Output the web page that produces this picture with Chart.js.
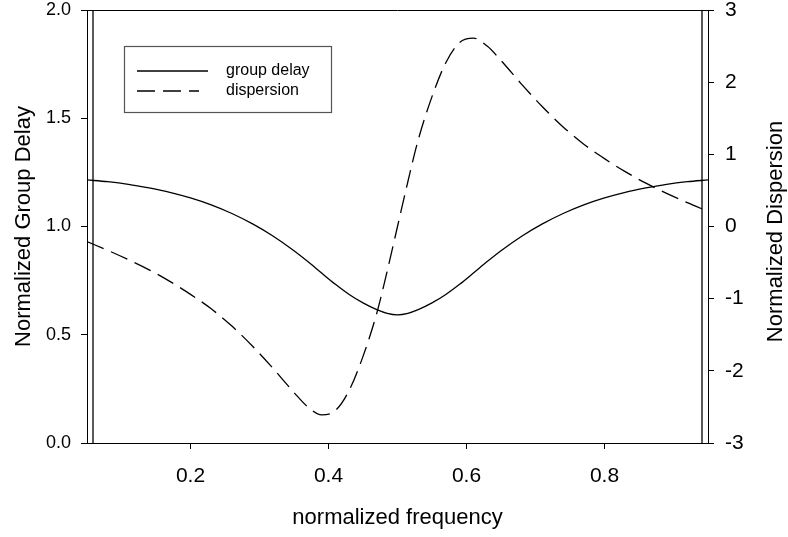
<!DOCTYPE html>
<html>
<head>
<meta charset="utf-8">
<script src="https://cdn.jsdelivr.net/npm/chart.js@4.4.1/dist/chart.umd.min.js"></script>
<style>
  html, body { margin: 0; padding: 0; background: #ffffff; }
  #wrap { width: 788px; height: 537px; }
</style>
</head>
<body>
<div id="wrap"><canvas id="chart" width="788" height="537"></canvas></div>
<script>
// Normalized frequency samples
const freq = [0.05, 0.08, 0.11, 0.14, 0.17, 0.20, 0.23, 0.26, 0.29, 0.32, 0.35, 0.37, 0.39, 0.41, 0.43, 0.45, 0.47, 0.485, 0.50,
              0.515, 0.53, 0.55, 0.57, 0.59, 0.61, 0.63, 0.65, 0.68, 0.71, 0.74, 0.77, 0.80, 0.83, 0.86, 0.89, 0.92, 0.95];
// Normalized group delay (left axis)
const groupDelay = [1.215, 1.207, 1.195, 1.178, 1.158, 1.132, 1.100, 1.060, 1.012, 0.955, 0.888, 0.838, 0.785, 0.733, 0.686, 0.647, 0.616, 0.599, 0.592,
                    0.599, 0.616, 0.647, 0.686, 0.733, 0.785, 0.838, 0.888, 0.955, 1.012, 1.060, 1.100, 1.132, 1.158, 1.178, 1.195, 1.207, 1.215];
// Normalized dispersion (right axis)
const dispersion = [-0.21, -0.33, -0.46, -0.60, -0.76, -0.94, -1.14, -1.38, -1.66, -1.97, -2.30, -2.50, -2.61, -2.55, -2.27, -1.80, -1.20, -0.62, 0.00,
                    0.62, 1.20, 1.80, 2.27, 2.55, 2.61, 2.50, 2.30, 1.97, 1.66, 1.38, 1.14, 0.94, 0.76, 0.60, 0.46, 0.33, 0.21];
// Band-edge frequencies marked by vertical lines
const bandEdges = [0.0587, 0.9413];
// Tick values
const freqTicks = [0.2, 0.4, 0.6, 0.8];
const delayTicks = [0.0, 0.5, 1.0, 1.5, 2.0];
const dispersionTicks = [-3, -2, -1, 0, 1, 2, 3];
const rightTitle = 'Normalized Dispersion';

const FONT = "'Liberation Sans', Arial, Helvetica, sans-serif";

const toPoints = (xs, ys) => xs.map((x, i) => ({ x: x, y: ys[i] }));

// Frame top edge, band-edge lines, right axis title (reading upward) and the boxed legend
const decorations = {
  id: 'decorations',
  afterDatasetsDraw(chart) {
    const { ctx, chartArea: a, scales } = chart;
    ctx.save();
    ctx.strokeStyle = '#000';
    ctx.lineWidth = 1;
    ctx.beginPath();
    ctx.moveTo(a.left, a.top + 0.5);
    ctx.lineTo(a.right, a.top + 0.5);
    ctx.stroke();

    ctx.lineWidth = 1.3;
    bandEdges.forEach(f => {
      const px = scales.x.getPixelForValue(f);
      ctx.beginPath();
      ctx.moveTo(px, a.top);
      ctx.lineTo(px, a.bottom);
      ctx.stroke();
    });

    // right axis title
    ctx.save();
    ctx.translate(scales.y2.right - 12, (a.top + a.bottom) / 2 + 5);
    ctx.rotate(-Math.PI / 2);
    ctx.font = '22px ' + FONT;
    ctx.fillStyle = '#000';
    ctx.textAlign = 'center';
    ctx.textBaseline = 'middle';
    ctx.fillText(rightTitle, 0, 0);
    ctx.restore();

    // legend
    const bx = a.left + 37, by = a.top + 36, bw = 207, bh = 66;
    ctx.strokeStyle = '#555';
    ctx.lineWidth = 1.2;
    ctx.strokeRect(bx + 0.5, by + 0.5, bw, bh);
    ctx.font = '16px ' + FONT;
    ctx.fillStyle = '#000';
    ctx.textBaseline = 'middle';
    ctx.textAlign = 'left';
    const rows = [by + 25, by + 45];
    chart.data.datasets.forEach((ds, i) => {
      ctx.strokeStyle = ds.borderColor;
      ctx.lineWidth = ds.borderWidth;
      ctx.setLineDash(ds.borderDash || []);
      ctx.beginPath();
      ctx.moveTo(bx + 13, rows[i]);
      ctx.lineTo(bx + (ds.borderDash ? 75 : 84), rows[i]);
      ctx.stroke();
      ctx.setLineDash([]);
      ctx.fillText(ds.label, bx + 102, rows[i]);
    });
    ctx.restore();
  }
};

const noEdgePadding = s => { s.paddingTop = 0; s.paddingBottom = 0; s.paddingLeft = 0; s.paddingRight = 0; };

new Chart(document.getElementById('chart'), {
  type: 'line',
  data: {
    datasets: [
      {
        label: 'group delay',
        data: toPoints(freq, groupDelay),
        yAxisID: 'y',
        borderColor: '#000',
        borderWidth: 1.3,
        pointRadius: 0,
        fill: false,
        cubicInterpolationMode: 'monotone'
      },
      {
        label: 'dispersion',
        data: toPoints(freq, dispersion),
        yAxisID: 'y2',
        borderColor: '#000',
        borderWidth: 1.3,
        borderDash: [18, 8],
        pointRadius: 0,
        fill: false,
        cubicInterpolationMode: 'monotone'
      }
    ]
  },
  options: {
    responsive: false,
    animation: false,
    devicePixelRatio: 1,
    layout: { padding: { top: 10, left: 0, right: 0, bottom: 0 } },
    plugins: { legend: { display: false }, tooltip: { enabled: false } },
    scales: {
      x: {
        type: 'linear',
        position: 'bottom',
        min: 0.05,
        max: 0.95,
        afterBuildTicks: s => { s.ticks = freqTicks.map(v => ({ value: v })); },
        afterFit: s => { s.height = 94; noEdgePadding(s); },
        ticks: { color: '#000', font: { family: FONT, size: 21 }, padding: 15, maxRotation: 0,
                 callback: v => v.toFixed(1) },
        grid: { drawOnChartArea: false, drawTicks: true, tickLength: 6, color: '#000', tickWidth: 1 },
        border: { display: true, color: '#000', width: 1 },
        title: { display: true, text: 'normalized frequency', color: '#000',
                 font: { family: FONT, size: 22 }, padding: { top: 0, bottom: 6 } }
      },
      y: {
        type: 'linear',
        position: 'left',
        min: 0,
        max: 2,
        afterBuildTicks: s => { s.ticks = delayTicks.map(v => ({ value: v })); },
        afterFit: s => { s.width = 87; noEdgePadding(s); },
        ticks: { color: '#000', font: { family: FONT, size: 18 }, padding: 10,
                 callback: v => v.toFixed(1) },
        grid: { drawOnChartArea: false, drawTicks: true, tickLength: 6, color: '#000', tickWidth: 1 },
        border: { display: true, color: '#000', width: 1 },
        title: { display: true, text: 'Normalized Group Delay', color: '#000',
                 font: { family: FONT, size: 22 }, padding: { top: 11, bottom: 0 } }
      },
      y2: {
        type: 'linear',
        position: 'right',
        min: -3,
        max: 3,
        afterBuildTicks: s => { s.ticks = dispersionTicks.map(v => ({ value: v })); },
        afterFit: s => { s.width = 80; noEdgePadding(s); },
        ticks: { color: '#000', font: { family: FONT, size: 21 }, padding: 11,
                 callback: v => String(v) },
        grid: { drawOnChartArea: false, drawTicks: true, tickLength: 6, color: '#000', tickWidth: 1 },
        border: { display: true, color: '#000', width: 1 },
        title: { display: false }
      }
    }
  },
  plugins: [decorations]
});
</script>
</body>
</html>
